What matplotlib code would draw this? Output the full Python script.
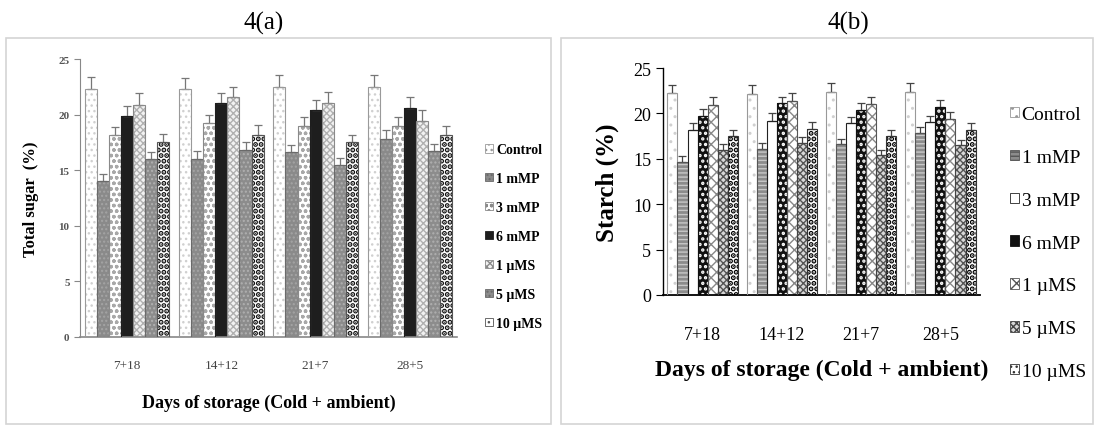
import matplotlib
matplotlib.use("Agg")
import matplotlib.pyplot as plt
import numpy as np
from matplotlib.patches import Patch, Rectangle

plt.rcParams['font.family'] = ['Liberation Serif', 'DejaVu Serif']

days = ["7+18", "14+12", "21+7", "28+5"]
treatments = ["Control", "1 mMP", "3 mMP", "6 mMP", "1 \u00b5MS", "5 \u00b5MS", "10 \u00b5MS"]

# total sugar (%), one row per treatment, one column per storage period
sugar = [
    [22.3, 22.3, 22.5, 22.5],
    [14.0, 16.0, 16.6, 17.8],
    [18.2, 19.2, 19.0, 19.0],
    [19.9, 21.0, 20.4, 20.6],
    [20.9, 21.6, 21.0, 19.4],
    [16.0, 16.8, 15.5, 16.7],
    [17.5, 18.2, 17.5, 18.2],
]
sugar_err = [
    [1.1, 1.0, 1.1, 1.1],
    [0.7, 0.7, 0.7, 0.8],
    [0.7, 0.8, 0.8, 0.8],
    [0.9, 0.9, 0.9, 1.0],
    [1.0, 0.9, 1.0, 1.0],
    [0.6, 0.7, 0.6, 0.7],
    [0.8, 0.9, 0.7, 0.8],
]

# starch (%)
starch = [
    [22.2, 22.1, 22.4, 22.4],
    [14.7, 16.1, 16.6, 17.8],
    [18.2, 19.2, 18.9, 19.0],
    [19.7, 21.1, 20.4, 20.7],
    [20.9, 21.4, 21.0, 19.4],
    [16.0, 16.7, 15.4, 16.5],
    [17.5, 18.3, 17.5, 18.2],
]
starch_err = [
    [0.9, 1.0, 1.0, 1.0],
    [0.6, 0.6, 0.6, 0.7],
    [0.7, 0.8, 0.7, 0.7],
    [0.8, 0.7, 0.7, 0.8],
    [0.9, 0.9, 0.8, 0.8],
    [0.6, 0.7, 0.6, 0.6],
    [0.7, 0.7, 0.7, 0.7],
]

# fill, hatch, hatch colour, outline colour, hatch line width
styles_a = [
    ("white", "...", "#d0d0d0", "#9a9a9a", 1.0),
    ("#8a8a8a", "....", "#a4a4a4", "#6a6a6a", 1.0),
    ("white", "ooo", "#a8a8a8", "#8a8a8a", 1.0),
    ("#1e1e1e", "", "#1e1e1e", "#1e1e1e", 1.0),
    ("#f2f2f2", "xxxxx", "#b0b0b0", "#8a8a8a", 1.0),
    ("#8c8c8c", "....", "#b0b0b0", "#6a6a6a", 1.0),
    ("white", "...", "#111111", "#555555", 2.6),
]
styles_b = [
    ("white", "..", "#d0d0d0", "#999999", 1.0),
    ("#8c8c8c", "----", "#c8c8c8", "#555555", 1.0),
    ("white", "", "white", "#222222", 1.0),
    ("#111111", "...", "#ffffff", "#111111", 1.6),
    ("white", "xxx", "#888888", "#555555", 1.0),
    ("#d8d8d8", "xxxxx", "#555555", "#444444", 1.0),
    ("white", "...", "#000000", "#333333", 2.6),
]

fig = plt.figure(figsize=(10.95, 4.27), dpi=100)

# panel frames
for x0, x1 in [(6, 551), (561, 1093)]:
    fig.patches.append(Rectangle((x0 / 1095, 2 / 427), (x1 - x0) / 1095, (388 - 2) / 427,
                                 transform=fig.transFigure, fill=False,
                                 edgecolor="#d4d4d4", linewidth=1.2))

fig.text(264 / 1095, 1 - 23 / 427, "4(a)", ha="center", va="center", fontsize=18)
fig.text(848 / 1095, 1 - 23 / 427, "4(b)", ha="center", va="center", fontsize=18)


def draw_panel(ax, values, errors, styles, width, err_color, capsize):
    x = np.arange(len(days))
    n = len(values)
    handles = []
    for i, (vals, errs, st) in enumerate(zip(values, errors, styles)):
        fc, hatch, hc, ec, hlw = st
        pos = x + (i - (n - 1) / 2) * width
        with plt.rc_context({"hatch.linewidth": hlw}):
            ax.bar(pos, vals, width, color=fc, hatch=hatch, edgecolor=hc, linewidth=0,
                   yerr=[np.zeros(len(errs)), errs],
                   error_kw=dict(ecolor=err_color, elinewidth=0.9, capsize=capsize,
                                 capthick=0.9),
                   zorder=2)
            handles.append(Patch(facecolor=fc, hatch=hatch, edgecolor=ec, linewidth=0.6))
        ax.bar(pos, vals, width, fill=False, edgecolor=ec, linewidth=0.8, zorder=3)
    ax.set_xlim(-0.5, len(days) - 0.5)
    ax.set_ylim(0, 25)
    ax.set_yticks(range(0, 26, 5))
    ax.set_xticks(x)
    ax.set_xticklabels(days)
    for s in ["top", "right"]:
        ax.spines[s].set_visible(False)
    ax.tick_params(axis="x", length=0)
    return handles


# 4(a) total sugar
ax1 = fig.add_axes([80 / 1095, 1 - 338 / 427, 377 / 1095, 278 / 427])
h1 = draw_panel(ax1, sugar, sugar_err, styles_a, 0.128, "#777777", 3)
ax1.spines["left"].set_color("#888888")
ax1.spines["bottom"].set_color("#888888")
ax1.spines["bottom"].set_linewidth(1.2)
ax1.tick_params(axis="y", length=4, color="#888888", labelsize=8, labelcolor="#555555")
ax1.tick_params(axis="x", labelsize=9.5, labelcolor="#444444", pad=16)
for lab in ax1.get_yticklabels():
    lab.set_fontweight("bold")
ax1.set_ylabel("Total sugar  (%)", fontsize=12, fontweight="bold", labelpad=14)
ax1.set_xlabel("Days of storage (Cold + ambient)", fontsize=13, fontweight="bold",
               labelpad=16)
ax1.legend(h1, treatments, loc="upper left", bbox_to_anchor=(485 / 1095, 1 - 144 / 427),
           bbox_transform=fig.transFigure, frameon=False,
           prop=dict(weight="bold", size=10), handlelength=0.6, handleheight=0.6,
           handletextpad=0.2, labelspacing=1.15, borderpad=0, borderaxespad=0)

# 4(b) starch
ax2 = fig.add_axes([663 / 1095, 1 - 296 / 427, 317 / 1095, 227 / 427])
h2 = draw_panel(ax2, starch, starch_err, styles_b, 0.127, "#444444", 3)
ax2.spines["left"].set_linewidth(1.0)
ax2.spines["bottom"].set_linewidth(1.3)
ax2.tick_params(axis="y", length=5, labelsize=13)
ax2.tick_params(axis="x", labelsize=13, pad=22)
ax2.set_ylabel("Starch (%)", fontsize=18, fontweight="bold", labelpad=10)
ax2.set_xlabel("Days of storage (Cold + ambient)", fontsize=17, fontweight="bold",
               labelpad=12)
ax2.legend(h2, treatments, loc="upper left", bbox_to_anchor=(1010 / 1095, 1 - 107 / 427),
           bbox_transform=fig.transFigure, frameon=False, fontsize=14,
           handlelength=0.45, handleheight=0.45, handletextpad=0.15, labelspacing=1.33,
           borderpad=0, borderaxespad=0)

fig.savefig("out.png", dpi=100)
